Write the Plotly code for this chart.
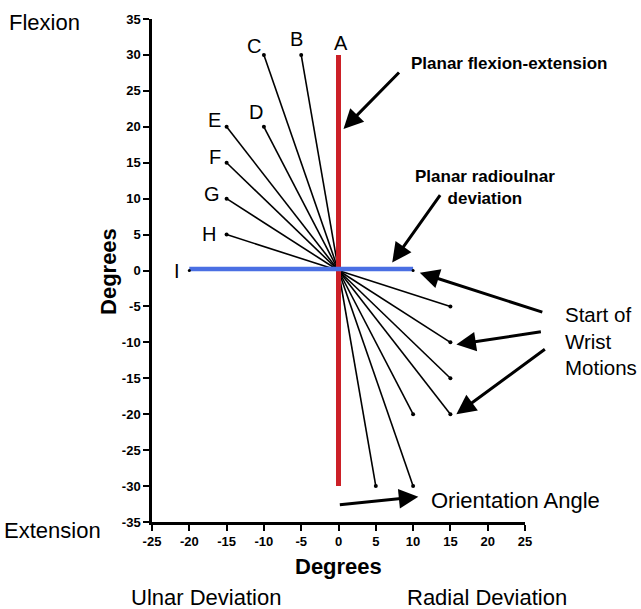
import plotly.graph_objects as go

# Start points of wrist motions (lines run from start to origin)
start_x = [-5, -10, -10, -15, -15, -15, -15, 15, 15, 15, 15, 10, 10, 5]
start_y = [30, 30, 20, 20, 15, 10, 5, -5, -10, -15, -20, -20, -30, -30]
origin = (0, 0)

# Planar motions
fe_x = [0, 0]
fe_y = [30, -30]
ru_x = [-20, 10]
ru_y = [0.2, 0.2]

letters = ["A", "B", "C", "D", "E", "F", "G", "H", "I"]
letter_x = [0.4, -5.6, -11.3, -11.0, -16.6, -16.6, -17.0, -17.4, -21.6]
letter_y = [31.6, 32.2, 31.3, 22.0, 21.0, 15.8, 10.7, 5.1, 0.0]

x_ticks = list(range(-25, 30, 5))
y_ticks = list(range(-35, 40, 5))
x_ticktext = [str(v) for v in x_ticks]
y_ticktext = [str(v) for v in y_ticks]

FONT = "Liberation Sans, Arial, Helvetica, sans-serif"
TICKFONT = "Liberation Sans Narrow, Liberation Sans, Arial, sans-serif"

fig = go.Figure()

lx, ly = [], []
for x, y in zip(start_x, start_y):
    lx += [x, origin[0], None]
    ly += [y, origin[1], None]
fig.add_trace(go.Scatter(x=lx, y=ly, mode="lines",
                         line=dict(color="black", width=1.6),
                         hoverinfo="skip", showlegend=False))
fig.add_trace(go.Scatter(x=start_x, y=start_y, mode="markers",
                         marker=dict(color="black", size=4),
                         showlegend=False))
fig.add_trace(go.Scatter(x=fe_x, y=fe_y, mode="lines",
                         line=dict(color="#cc2027", width=5),
                         showlegend=False))
fig.add_trace(go.Scatter(x=ru_x, y=ru_y, mode="lines",
                         line=dict(color="#4a6fe3", width=4.5),
                         showlegend=False))
fig.add_trace(go.Scatter(x=[-20, 10], y=[0, 0], mode="markers",
                         marker=dict(color="black", size=3),
                         showlegend=False))

ann = []
for t, x, y in zip(letters, letter_x, letter_y):
    ann.append(dict(x=x, y=y, text=t, showarrow=False, yanchor="middle",
                    font=dict(family=FONT, size=20, color="black")))

def txt(x, y, text, size=22, bold=False, xanchor="center", align="center",
        angle=0, ref="data"):
    d = dict(x=x, y=y, text=text, showarrow=False, xanchor=xanchor,
             yanchor="middle", align=align, textangle=angle,
             font=dict(family=FONT, size=size, color="black",
                       weight="bold" if bold else "normal"))
    if ref == "paper":
        d.update(xref="paper", yref="paper")
    return d

ann += [
    txt(-0.287, 0.994, "Flexion", ref="paper"),
    txt(-0.268, -0.016, "Extension", ref="paper"),
    txt(0.145, -0.150, "Ulnar Deviation", ref="paper"),
    txt(0.898, -0.150, "Radial Deviation", ref="paper"),
    txt(0.5, -0.089, "Degrees", size=22, bold=True, ref="paper"),
    txt(-0.118, 0.499, "Degrees", size=22, bold=True, angle=-90, ref="paper"),
    txt(1.102, 0.360, "Start of<br>Wrist<br>Motions", size=20.5,
        xanchor="left", align="left", ref="paper"),
    txt(9.4, 28.8, "Planar flexion-extension", size=17, bold=True, xanchor="left"),
    txt(19.7, 11.6, "Planar radioulnar<br>deviation", size=17, bold=True),
    txt(12.1, -32.0, "Orientation Angle", xanchor="left"),
]

def arrow(x, y, axp, ayp):
    return dict(x=x, y=y, ax=axp, ay=ayp, showarrow=True, arrowhead=2,
                arrowsize=1.3, arrowwidth=3, arrowcolor="black", text="",
                standoff=0)

ann += [
    arrow(0.67, 19.7, 57, -58),
    arrow(7.2, 1.1, 49, -69),
    arrow(10.9, -0.3, 124, 40),
    arrow(15.8, -10.3, 86, -13),
    arrow(15.8, -20.0, 90, -66),
    arrow(10.7, -31.5, -80, 8),
]

axis_common = dict(ticks="outside", ticklen=6, tickwidth=2, tickcolor="black",
                   showline=True, linewidth=2.5, linecolor="black",
                   showgrid=False, zeroline=False,
                   tickfont=dict(family=TICKFONT, size=13, color="black",
                                 weight="bold"))

fig.update_layout(
    width=641, height=609,
    margin=dict(l=152, r=116, t=17, b=87),
    paper_bgcolor="white", plot_bgcolor="white",
    annotations=ann,
    font=dict(family=FONT, color="black"),
    xaxis=dict(range=[-25, 25], tickvals=x_ticks, ticktext=x_ticktext,
               **axis_common),
    yaxis=dict(range=[-35, 35], tickvals=y_ticks, ticktext=y_ticktext,
               **axis_common),
)

fig.write_html("out.html", config={"displayModeBar": False},
               post_script="document.body.style.margin='0px';")
